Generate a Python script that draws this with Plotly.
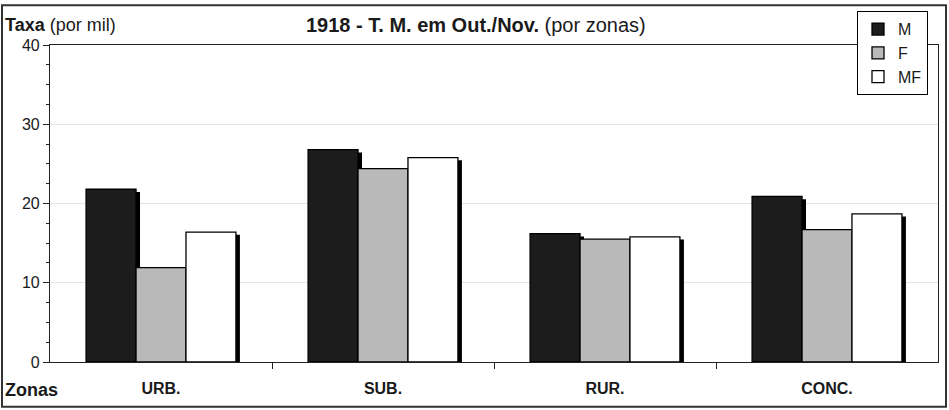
import plotly.graph_objects as go

categories = ["URB.", "SUB.", "RUR.", "CONC."]
series_names = ["M", "F", "MF"]
values_M = [21.8, 26.8, 16.2, 20.9]
values_F = [11.9, 24.4, 15.5, 16.7]
values_MF = [16.4, 25.8, 15.8, 18.7]
series_values = [values_M, values_F, values_MF]
fill_colors = ["#1c1c1c", "#b9b9b9", "#ffffff"]

W, H = 949, 410
L, R, T, B = 50, 11, 43, 48
pw, ph = W - L - R, H - T - B

def px_x(x):
    return (x - L) / pw

def px_y(y):
    return (H - B - y) / ph

bar_w = 0.225
offsets = [-1.5 * bar_w, -0.5 * bar_w, 0.5 * bar_w]
shadow_dx = 0.018
shadow_dy = 0.35
FONT = "Liberation Sans, Arial, sans-serif"

fig = go.Figure()
xs = list(range(len(categories)))
# shadows
for name, vals, off in zip(series_names, series_values, offsets):
    fig.add_trace(go.Bar(
        x=xs, y=[v - shadow_dy for v in vals], offset=off + shadow_dx, width=bar_w,
        marker=dict(color="#000000", line=dict(width=0)), showlegend=False,
        hoverinfo="skip"))
for name, vals, off, col in zip(series_names, series_values, offsets, fill_colors):
    fig.add_trace(go.Bar(
        x=xs, y=vals, offset=off, width=bar_w, name=name, legendgroup=name,
        marker=dict(color=col, line=dict(color="#000000", width=1.3))))

fig.update_layout(
    width=W, height=H, barmode="overlay",
    margin=dict(l=L, r=R, t=T, b=B),
    paper_bgcolor="white", plot_bgcolor="white",
    font=dict(family=FONT, size=15, color="#1a1a1a"),
    showlegend=True,
    legend=dict(x=px_x(857), y=px_y(9), xanchor="left", yanchor="top",
                bgcolor="white", bordercolor="#000000", borderwidth=1,
                font=dict(size=16, family=FONT), tracegroupgap=2,
                itemwidth=30, traceorder="normal"),
)
fig.update_xaxes(
    type="linear", range=[-0.5, 3.5], tickvals=xs, ticktext=categories,
    showgrid=False, showline=True, linecolor="#222", linewidth=1.2, mirror=True,
    ticks="", ticklabelstandoff=12,
    tickfont=dict(size=16, family=FONT, color="#1a1a1a", weight="bold"),
    zeroline=False,
    minor=dict(tickvals=[0.5, 1.5, 2.5], ticks="outside", ticklen=6, tickcolor="#222", showgrid=False),
)
fig.update_yaxes(
    range=[0, 40], dtick=10, showgrid=True, gridcolor="#e4e4e4", gridwidth=1,
    showline=True, linecolor="#222", linewidth=1.2, mirror=True,
    ticks="outside", ticklen=6, tickcolor="#222", zeroline=False,
    tickfont=dict(size=16, family=FONT, color="#1a1a1a"),
    minor=dict(dtick=2.5, ticks="outside", ticklen=3, tickcolor="#222", showgrid=False),
)
fig.add_annotation(text="<b>1918 - T. M. em Out./Nov.</b> (por zonas)", xref="paper", yref="paper",
                   x=px_x(476), y=px_y(23), xanchor="center", yanchor="middle", showarrow=False,
                   font=dict(size=20, family=FONT, color="#1a1a1a"))
fig.add_annotation(text="<b>Taxa</b> (por mil)", xref="paper", yref="paper",
                   x=px_x(3), y=px_y(23), xanchor="left", yanchor="middle", showarrow=False,
                   font=dict(size=18, family=FONT, color="#1a1a1a"))
fig.add_annotation(text="<b>Zonas</b>", xref="paper", yref="paper",
                   x=px_x(3), y=px_y(390), xanchor="left", yanchor="middle", showarrow=False,
                   font=dict(size=18, family=FONT, color="#1a1a1a"))
fig.add_shape(type="rect", xref="paper", yref="paper",
              x0=px_x(2), x1=px_x(946), y0=px_y(407), y1=px_y(3),
              line=dict(color="#333", width=2), fillcolor="rgba(0,0,0,0)", layer="below")

fig.write_html("out.html")
